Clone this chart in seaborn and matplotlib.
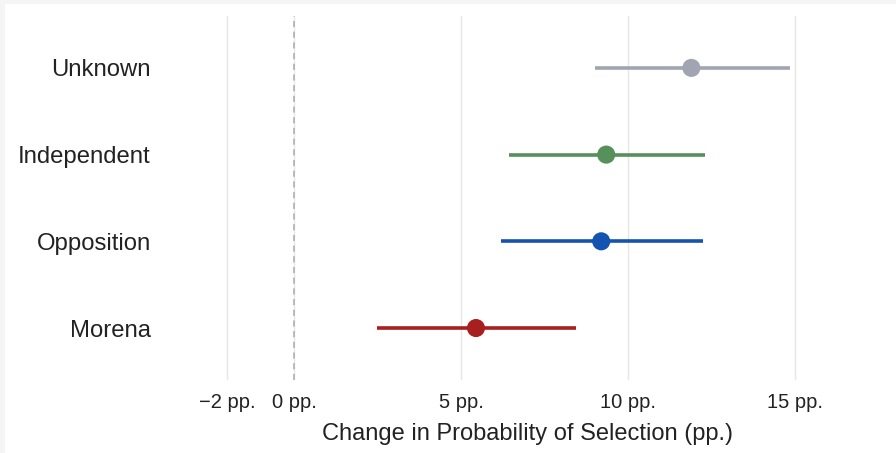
import numpy as np
import pandas as pd
import matplotlib
matplotlib.use("Agg")
import matplotlib.pyplot as plt
import seaborn as sns
from matplotlib.ticker import FuncFormatter
from matplotlib.patches import Rectangle

# Estimates and 95% intervals (pp.)
groups = ["Unknown", "Independent", "Opposition", "Morena"]
estimate = [11.9, 9.35, 9.2, 5.45]
ci_low = [9.0, 6.45, 6.2, 2.5]
ci_high = [14.85, 12.3, 12.25, 8.45]
colors = ["#a0a5b1", "#56905a", "#1453b0", "#a81f1f"]
x_ticks = [-2, 0, 5, 10, 15]

df = pd.DataFrame({"group": groups, "est": estimate, "lo": ci_low, "hi": ci_high})
df["pos"] = np.arange(len(df))

sns.set_style("whitegrid")
plt.rcParams["font.family"] = ["Liberation Sans", "DejaVu Sans"]

fig, ax = plt.subplots(figsize=(8.96, 4.53), dpi=100)
fig.patch.set_facecolor("white")
fig.subplots_adjust(left=0.179, right=0.999, top=0.965, bottom=0.161)

# thin light frame at the top and left edges of the image
fig.patches.append(Rectangle((0, 1 - 4 / 453), 1, 4 / 453, transform=fig.transFigure,
                             facecolor="#f5f5f5", edgecolor="none", zorder=0))
fig.patches.append(Rectangle((0, 0), 5 / 896, 1, transform=fig.transFigure,
                             facecolor="#f5f5f5", edgecolor="none", zorder=0))

# intervals
for i, row in df.iterrows():
    ax.hlines(row["pos"], row["lo"], row["hi"], color=colors[i], lw=2.6, zorder=3)

sns.scatterplot(data=df, x="est", y="pos", hue="group", palette=colors,
                s=170, edgecolor="none", legend=False, ax=ax, zorder=4)

ax.axvline(0, color="#aaaaaa", ls=(0, (4, 3)), lw=1.1, zorder=2)

ax.set_xlim(-4, 18)
ax.set_ylim(-0.6, 3.6)
ax.invert_yaxis()
ax.set_yticks(df["pos"])
ax.set_yticklabels(groups, fontsize=17.2, color="#222222")
ax.set_xticks(x_ticks)
ax.xaxis.set_major_formatter(FuncFormatter(lambda v, p: f"{v:g} pp.".replace("-", "\u2212")))
ax.tick_params(axis="x", labelsize=14.5, colors="#222222", length=0, pad=9)
ax.tick_params(axis="y", length=0, pad=7)
ax.grid(axis="y", visible=False)
ax.grid(axis="x", color="#e6e6e6", lw=1)
for s in ax.spines.values():
    s.set_visible(False)
ax.set_ylabel("")
ax.set_xlabel("Change in Probability of Selection (pp.)", fontsize=17, color="#222222", labelpad=8)

fig.savefig("out.png", dpi=100)
